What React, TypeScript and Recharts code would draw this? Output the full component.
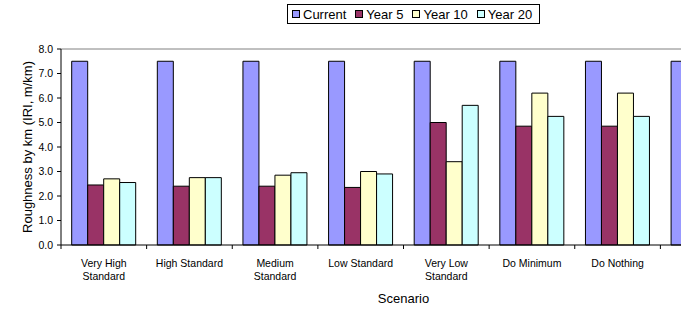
import React from 'react';
import { BarChart, Bar, XAxis, YAxis, ReferenceLine, Legend } from 'recharts';

const categories = [
  'Very High\nStandard',
  'High Standard',
  'Medium\nStandard',
  'Low Standard',
  'Very Low\nStandard',
  'Do Minimum',
  'Do Nothing',
  '',
];
const seriesNames = ['Current', 'Year 5', 'Year 10', 'Year 20'];
const current = [7.5, 7.5, 7.5, 7.5, 7.5, 7.5, 7.5, 7.5];
const year5 = [2.45, 2.4, 2.4, 2.35, 5.0, 4.85, 4.85, null];
const year10 = [2.7, 2.75, 2.85, 3.0, 3.4, 6.2, 6.2, null];
const year20 = [2.55, 2.75, 2.95, 2.9, 5.7, 5.25, 5.25, null];
const yTicks = [0, 1, 2, 3, 4, 5, 6, 7, 8];

const colors = ['#9999FF', '#993366', '#FFFFCC', '#CCFFFF'];
const FONT = '"Liberation Sans", Arial, Helvetica, sans-serif';

const CHART_W = 746;
const CHART_H = 309;
const Y_AXIS_W = 61;
const X_AXIS_H = 64;
const TOP = 49;

const data = categories.map((name, i) => ({
  name,
  Current: current[i],
  'Year 5': year5[i],
  'Year 10': year10[i],
  'Year 20': year20[i],
}));

const halfBand = (CHART_W - Y_AXIS_W) / categories.length / 2;

const XTick = (props: any) => {
  const { x, y, payload } = props;
  const axisY = y - 8;
  const lines = String(payload.value).split('\n');
  return (
    <g>
      <line x1={x - halfBand} x2={x - halfBand} y1={axisY} y2={axisY + 4} stroke="#000" strokeWidth={1} />
      <text textAnchor="middle" fontSize={10.5} fill="#000" fontFamily={FONT}>
        {lines.map((l, i) => (
          <tspan key={i} x={x} y={y + 13.5 + i * 13.5}>
            {l}
          </tspan>
        ))}
      </text>
    </g>
  );
};

const LegendBox = () => (
  <div
    style={{
      display: 'flex',
      alignItems: 'center',
      border: '1px solid #000',
      background: '#fff',
      height: 20,
      boxSizing: 'border-box',
      padding: '0 0 0 4px',
      fontFamily: FONT,
      fontSize: 13,
      color: '#000',
      whiteSpace: 'nowrap',
      width: 253,
    }}
  >
    {seriesNames.map((n, i) => (
      <div key={n} style={{ display: 'flex', alignItems: 'center', marginRight: i < 3 ? 9 : 0 }}>
        <span
          style={{
            display: 'inline-block',
            width: 8,
            height: 8,
            border: '1px solid #000',
            background: colors[i],
            boxSizing: 'border-box',
            marginRight: 3,
          }}
        />
        <span>{n}</span>
      </div>
    ))}
  </div>
);

export default function App() {
  return (
    <div
      style={{
        position: 'absolute',
        left: 0,
        top: 0,
        width: 681,
        height: 309,
        overflow: 'hidden',
        background: '#fff',
      }}
    >
      <BarChart
        width={CHART_W}
        height={CHART_H}
        data={data}
        margin={{ top: TOP, right: 0, bottom: 0, left: 0 }}
        barCategoryGap="12.5%"
        barGap={0}
      >
        <Legend
          layout="horizontal"
          verticalAlign="middle"
          align="center"
          content={() => <LegendBox />}
          wrapperStyle={{ position: 'absolute', top: 4, left: 287, width: 253, height: 20 }}
        />
        <ReferenceLine y={8} stroke="#808080" strokeWidth={1} ifOverflow="visible" />
        <XAxis
          dataKey="name"
          interval={0}
          height={X_AXIS_H}
          tickLine={false}
          tickSize={6}
          tickMargin={2}
          axisLine={{ stroke: '#000' }}
          tick={<XTick />}
          label={{
            value: 'Scenario',
            position: 'insideBottom',
            offset: 6,
            style: { fontFamily: FONT, fontSize: 13, fill: '#000' },
          }}
        />
        <YAxis
          width={Y_AXIS_W}
          domain={[0, 8]}
          ticks={yTicks}
          interval={0}
          tickSize={4}
          tickMargin={4}
          axisLine={{ stroke: '#000' }}
          tickLine={{ stroke: '#000' }}
          tickFormatter={(v: number) => v.toFixed(1)}
          tick={{ fontFamily: FONT, fontSize: 10.5, fill: '#000' }}
          label={{
            value: 'Roughness by km (IRI, m/km)',
            angle: -90,
            position: 'center',
            dx: -3,
            style: { fontFamily: FONT, fontSize: 13, fill: '#000', textAnchor: 'middle' },
          }}
        />
        {seriesNames.map((n, i) => (
          <Bar key={n} dataKey={n} fill={colors[i]} stroke="#000" strokeWidth={1} isAnimationActive={false} />
        ))}
      </BarChart>
    </div>
  );
}
